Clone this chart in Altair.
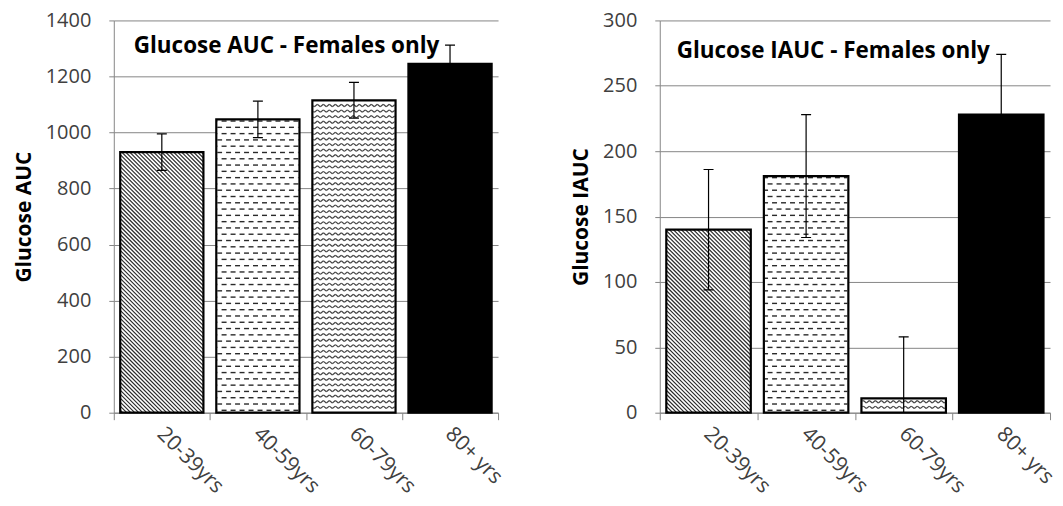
import json
import altair as alt
import pandas as pd

# Age groups and glucose response summaries (mean and error)
AGE_GROUPS = ["20-39yrs", "40-59yrs", "60-79yrs", "80+ yrs"]
AUC_MEAN = [930, 1047, 1115, 1245]
AUC_ERR = [65, 65, 64, 67]
IAUC_MEAN = [140, 181, 11, 228]
IAUC_ERR = [46, 47, 47, 46]
AUC_TICKS = [0, 200, 400, 600, 800, 1000, 1200, 1400]
IAUC_TICKS = [0, 50, 100, 150, 200, 250, 300]
FILL_STYLES = ["diagonal", "dashes", "zigzag", "solid"]

FONT = "Open Sans"
GRID = "#868686"
LABEL = "#404040"
HALF_BAR = 0.433  # half bar width, in category units


def clip_segment(x0, y0, x1, y1, a, b, t, B):
    """Liang-Barsky clip of a pixel segment to the rectangle [a,b] x [t,B]."""
    dx, dy = x1 - x0, y1 - y0
    u0, u1 = 0.0, 1.0
    for p, q in ((-dx, x0 - a), (dx, b - x0), (-dy, y0 - t), (dy, B - y0)):
        if p == 0:
            if q < 0:
                return None
        else:
            r = q / p
            if p < 0:
                u0 = max(u0, r)
            else:
                u1 = min(u1, r)
    if u0 >= u1:
        return None
    return (x0 + u0 * dx, y0 + u0 * dy, x0 + u1 * dx, y0 + u1 * dy)


def hatch_segments(style, a, b, t, B):
    """Fill-pattern strokes for one bar, in plot pixels (y downward)."""
    segs = []
    if style == "diagonal":
        step = 4.0
        k0 = int((a - B) // step) - 1
        k1 = int((b - t) // step) + 2
        for k in range(k0, k1):
            c = k * step
            s = clip_segment(t + c, t, B + c, B, a, b, t, B)
            if s:
                segs.append(s)
    elif style == "dashes":
        row, period, dash = 6.3, 9.0, 5.0
        k = 1
        while k * row < B:
            py = k * row
            if t + 1.5 < py < B - 1.0:
                off = (k % 2) * period / 2
                j0 = int((a - off) // period) - 1
                j1 = int((b - off) // period) + 2
                for j in range(j0, j1):
                    x0 = off + j * period
                    s = clip_segment(x0, py, x0 + dash, py, a + 1, b - 1, t, B)
                    if s:
                        segs.append(s)
            k += 1
    elif style == "zigzag":
        row, half, amp = 5.6, 3.0, 2.4
        k = 0
        while k * row < B:
            py = k * row
            if py > t + 1.0 and py + amp < B - 1.0:
                j0 = int(a // half) - 1
                j1 = int(b // half) + 2
                for j in range(j0, j1):
                    x0, y0 = j * half, py + (j % 2) * amp
                    x1, y1 = (j + 1) * half, py + ((j + 1) % 2) * amp
                    s = clip_segment(x0, y0, x1, y1, a + 1, b - 1, t, B)
                    if s:
                        segs.append(s)
            k += 1
    return segs


def panel(title, y_title, means, errs, ticks, width, height, title_x, title_y):
    ymax = ticks[-1]
    n = len(AGE_GROUPS)
    xs = width / n          # pixels per category unit
    ys = height / ymax      # pixels per value unit

    bars = pd.DataFrame({
        "group": AGE_GROUPS,
        "center": [i + 0.5 for i in range(n)],
        "x0": [i + 0.5 - HALF_BAR for i in range(n)],
        "x1": [i + 0.5 + HALF_BAR for i in range(n)],
        "mean": means,
        "base": [0] * n,
        "lo": [m - e for m, e in zip(means, errs)],
        "hi": [m + e for m, e in zip(means, errs)],
        "fill": ["black" if s == "solid" else "white" for s in FILL_STYLES],
        "style": FILL_STYLES,
    })
    cap = 5.0 / xs
    bars["cap0"] = bars["center"] - cap
    bars["cap1"] = bars["center"] + cap

    # pattern strokes, converted from pixels back to data units
    rows = []
    widths = {"diagonal": 1.2, "dashes": 1.4, "zigzag": 1.2}
    colors = {"diagonal": "#2a2a2a", "dashes": "#2a2a2a", "zigzag": "#444444"}
    for _, r in bars.iterrows():
        if r["style"] == "solid":
            continue
        a, b = r["x0"] * xs, r["x1"] * xs
        t, B = height - r["mean"] * ys, height
        for (px0, py0, px1, py1) in hatch_segments(r["style"], a, b, t, B):
            rows.append({
                "x": px0 / xs, "x2": px1 / xs,
                "y": (height - py0) / ys, "y2": (height - py1) / ys,
                "w": widths[r["style"]], "c": colors[r["style"]],
            })
    hatch = pd.DataFrame(rows)

    xscale = alt.Scale(domain=[0, n], nice=False, zero=False)
    yscale = alt.Scale(domain=[0, ymax], nice=False)

    label_expr = (
        "datum.value % 1 == 0.5 ? "
        + json.dumps(AGE_GROUPS)
        + "[floor(datum.value)] : ''"
    )
    x_axis = alt.Axis(
        values=[k / 2 for k in range(2 * n + 1)],
        labelExpr=label_expr,
        title=None,
        grid=False,
        domainColor=GRID,
        tickColor=GRID,
        tickSize=7,
        tickOpacity={"condition": {"test": "datum.value % 1 != 0", "value": 0}, "value": 1},
        labelAngle=45,
        labelAlign="left",
        labelBaseline="top",
        labelPadding=3,
        labelOffset=6,
        labelOverlap=False,
        labelFont=FONT,
        labelFontSize=21,
        labelColor=LABEL,
    )
    y_axis = alt.Axis(
        values=ticks,
        format="d",
        title=y_title,
        titleFont=FONT,
        titleFontSize=21,
        titleFontWeight="bold",
        titleColor="black",
        titlePadding=11,
        grid=True,
        gridColor=GRID,
        domainColor=GRID,
        tickColor=GRID,
        tickSize=5,
        labelFont=FONT,
        labelFontSize=20,
        labelColor=LABEL,
        labelPadding=18,
    )

    def X(field):
        return alt.X(field, scale=xscale, axis=x_axis)

    def Y(field):
        return alt.Y(field, scale=yscale, axis=y_axis)

    base = alt.Chart(bars)
    fill = base.mark_rect(strokeWidth=0).encode(
        x=X("x0:Q"), x2="x1:Q", y=Y("mean:Q"), y2="base:Q",
        fill=alt.Fill("fill:N", scale=None),
    )
    pattern = alt.Chart(hatch).mark_rule(strokeCap="butt").encode(
        x=X("x:Q"), x2="x2:Q", y=Y("y:Q"), y2="y2:Q",
        strokeWidth=alt.StrokeWidth("w:Q", scale=None),
        color=alt.Color("c:N", scale=None),
    )
    outline = base.mark_rect(fillOpacity=0, stroke="black", strokeWidth=2.2).encode(
        x=X("x0:Q"), x2="x1:Q", y=Y("mean:Q"), y2="base:Q",
    )
    err = base.mark_rule(color="black", strokeWidth=1.2, clip=True).encode(
        x=X("center:Q"), y=Y("lo:Q"), y2="hi:Q",
    )
    cap_hi = base.mark_rule(color="black", strokeWidth=1.2, clip=True).encode(
        x=X("cap0:Q"), x2="cap1:Q", y=Y("hi:Q"),
    )
    cap_lo = base.mark_rule(color="black", strokeWidth=1.2, clip=True).encode(
        x=X("cap0:Q"), x2="cap1:Q", y=Y("lo:Q"),
    )
    heading = alt.Chart(pd.DataFrame({"t": [title]})).mark_text(
        align="left", baseline="alphabetic", font=FONT, fontSize=22.5,
        fontWeight="bold", color="black",
    ).encode(text="t:N", x=alt.value(title_x), y=alt.value(title_y))

    return alt.layer(fill, pattern, outline, err, cap_hi, cap_lo, heading).properties(
        width=width, height=height
    )


left = panel("Glucose AUC - Females only", "Glucose AUC", AUC_MEAN, AUC_ERR,
             AUC_TICKS, 385, 393, 20, 33)
right = panel("Glucose IAUC - Females only", "Glucose IAUC", IAUC_MEAN, IAUC_ERR,
              IAUC_TICKS, 391, 393, 17, 38)

chart = alt.hconcat(left, right, spacing=64).properties(
    padding={"left": 13, "top": 10, "right": 5, "bottom": 5}
).configure_view(stroke=None)

chart.save("out.html", embed_options={"renderer": "svg", "actions": False})
